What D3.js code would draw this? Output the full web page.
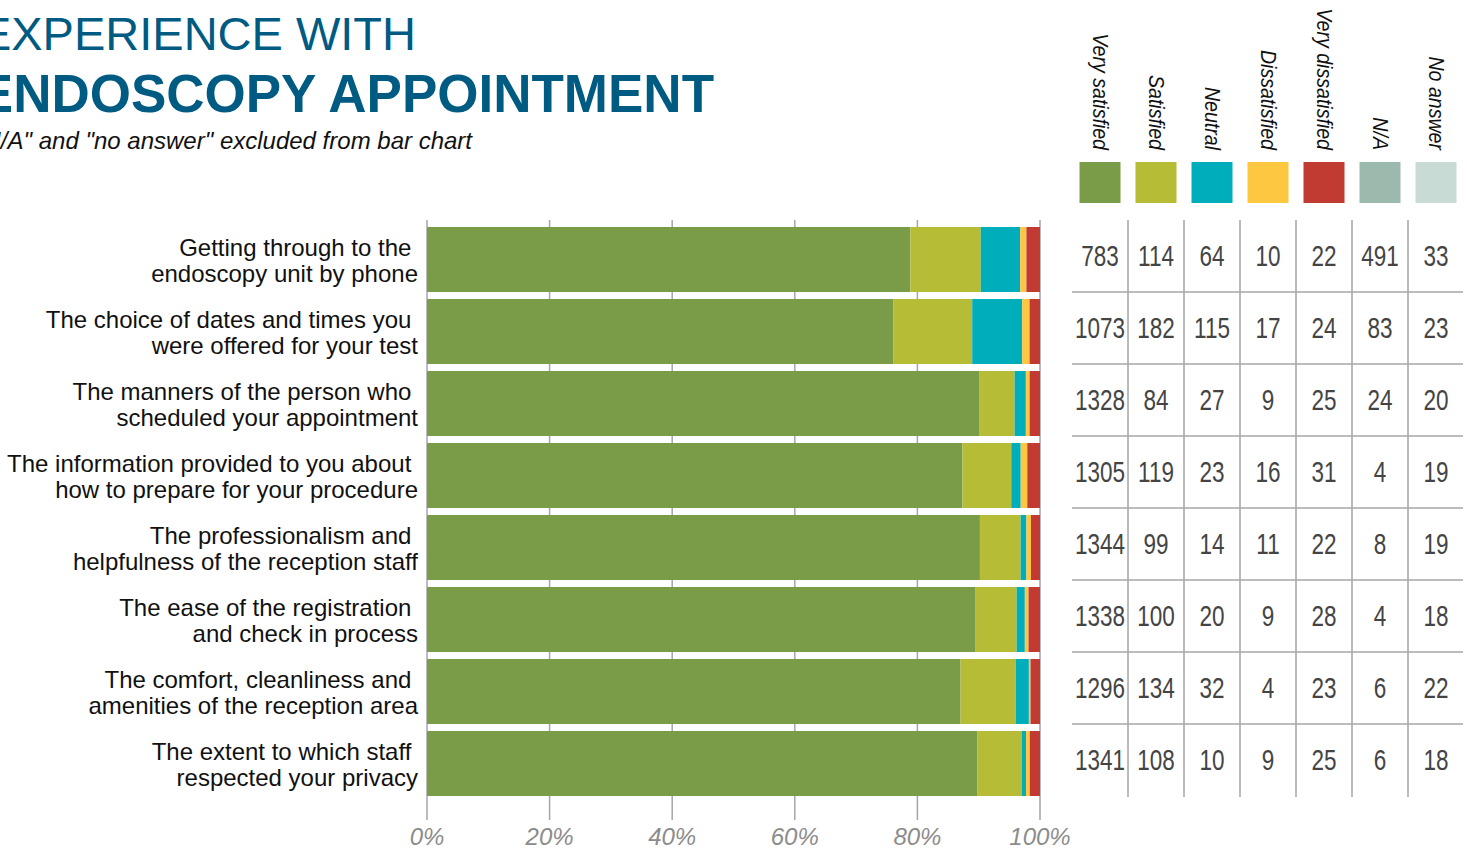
<!DOCTYPE html>
<html>
<head>
<meta charset="utf-8">
<style>
    body { margin: 0; background: white; overflow: hidden; }
    svg { display: block; font-family: "Liberation Sans", Arial, sans-serif; }
    .cat { white-space: pre; }
</style>
</head>
<body>
<svg width="1467" height="849"></svg>
<script src="https://d3js.org/d3.v7.min.js"></script>
<script>
    // data
    let categories = [
        ["Getting through to the ", "endoscopy unit by phone"],
        ["The choice of dates and times you ", "were offered for your test"],
        ["The manners of the person who ", "scheduled your appointment"],
        ["The information provided to you about ", "how to prepare for your procedure"],
        ["The professionalism and ", "helpfulness of the reception staff"],
        ["The ease of the registration ", "and check in process"],
        ["The comfort, cleanliness and ", "amenities of the reception area"],
        ["The extent to which staff ", "respected your privacy"]
    ];
    let answers = ["Very satisfied", "Satisfied", "Neutral", "Dissatisfied", "Very dissatisfied", "N/A", "No answer"];
    let colors = ["#7a9c48", "#b6bc35", "#00adbb", "#fdc741", "#c13b33", "#9bb9ad", "#c9dbd5"];

    let verySatisfied    = [783, 1073, 1328, 1305, 1344, 1338, 1296, 1341];
    let satisfied        = [114, 182, 84, 119, 99, 100, 134, 108];
    let neutral          = [64, 115, 27, 23, 14, 20, 32, 10];
    let dissatisfied     = [10, 17, 9, 16, 11, 9, 4, 9];
    let veryDissatisfied = [22, 24, 25, 31, 22, 28, 23, 25];
    let notApplicable    = [491, 83, 24, 4, 8, 4, 6, 6];
    let noAnswer         = [33, 23, 20, 19, 19, 18, 22, 18];

    let tickValues = [0, 0.2, 0.4, 0.6, 0.8, 1];

    let series = [verySatisfied, satisfied, neutral, dissatisfied, veryDissatisfied, notApplicable, noAnswer];
    let rows = categories.map((c, i) => {
        let r = { key: i };
        answers.forEach((a, j) => r[a] = series[j][i]);
        return r;
    });

    // bar chart only uses the first five answers, as shares
    let barKeys = answers.slice(0, 5);
    let shares = rows.map(r => {
        let total = d3.sum(barKeys, k => r[k]);
        let s = { key: r.key };
        barKeys.forEach(k => s[k] = r[k] / total);
        return s;
    });
    let stacked = d3.stack().keys(barKeys)(shares);

    let svg = d3.select("svg");
    let color = d3.scaleOrdinal().domain(answers).range(colors);

    let x = d3.scaleLinear().domain([0, 1]).range([427, 1040]);
    let y = d3.scaleBand().domain(d3.range(categories.length)).range([220, 796]);

    // titles
    svg.append("text")
        .attr("x", 416).attr("y", 50)
        .attr("text-anchor", "end")
        .style("font-size", "47px")
        .style("fill", "#005b82")
        .text("EXPERIENCE WITH");
    svg.append("text")
        .attr("x", 714).attr("y", 112)
        .attr("text-anchor", "end")
        .style("font-size", "53px")
        .style("font-weight", "bold")
        .style("fill", "#005b82")
        .text("ENDOSCOPY APPOINTMENT");
    svg.append("text")
        .attr("x", 472).attr("y", 149)
        .attr("text-anchor", "end")
        .style("font-size", "24px")
        .style("font-style", "italic")
        .style("fill", "#111")
        .text('"N/A" and "no answer" excluded from bar chart');

    // gridlines
    svg.append("g")
        .selectAll("line")
        .data(tickValues)
        .join("line")
        .attr("x1", d => x(d)).attr("x2", d => x(d))
        .attr("y1", 220).attr("y2", 820)
        .style("stroke", "#a6a6a6")
        .style("stroke-width", 1.5);

    svg.append("g")
        .selectAll("text")
        .data(tickValues)
        .join("text")
        .attr("x", d => x(d)).attr("y", 845)
        .attr("text-anchor", "middle")
        .style("font-size", "24px")
        .style("font-style", "italic")
        .style("fill", "#8c8c8c")
        .text(d3.format(".0%"));

    // bars
    svg.append("g")
        .selectAll("g")
        .data(stacked)
        .join("g")
        .style("fill", d => color(d.key))
        .selectAll("rect")
        .data(d => d)
        .join("rect")
        .attr("x", d => x(d[0]))
        .attr("width", d => x(d[1]) - x(d[0]))
        .attr("y", d => y(d.data.key) + 7)
        .attr("height", y.bandwidth() - 7);

    // category labels
    let labels = svg.append("g")
        .selectAll("text")
        .data(categories)
        .join("text")
        .attr("class", "cat")
        .attr("text-anchor", "end")
        .style("font-size", "24px")
        .style("fill", "#111");
    labels.append("tspan")
        .attr("x", 418)
        .attr("y", (d, i) => y(i) + 7 + (y.bandwidth() - 7) / 2 - 4)
        .text(d => d[0]);
    labels.append("tspan")
        .attr("x", 418)
        .attr("y", (d, i) => y(i) + 7 + (y.bandwidth() - 7) / 2 + 22)
        .text(d => d[1]);

    // table of counts
    let col = d3.scaleBand().domain(answers).range([1072, 1464]);

    let table = svg.append("g");
    table.selectAll(".hline")
        .data(d3.range(1, categories.length))
        .join("line")
        .attr("x1", 1072).attr("x2", 1463)
        .attr("y1", d => y(d)).attr("y2", d => y(d))
        .style("stroke", "#a6a6a6")
        .style("stroke-width", 1.5);
    table.selectAll(".vline")
        .data(answers.slice(1))
        .join("line")
        .attr("x1", d => col(d)).attr("x2", d => col(d))
        .attr("y1", 220).attr("y2", 797)
        .style("stroke", "#a6a6a6")
        .style("stroke-width", 1.5);

    // narrow numbers: squeeze horizontally since no condensed font is around
    let cells = [];
    rows.forEach((r, i) => answers.forEach(a => cells.push({ row: i, key: a, value: r[a] })));
    table.selectAll("text")
        .data(cells)
        .join("text")
        .attr("transform", d => `translate(${col(d.key) + col.bandwidth() / 2},${y(d.row) + 7 + (y.bandwidth() - 7) / 2 + 6.5}) scale(0.75,1)`)
        .attr("text-anchor", "middle")
        .style("font-size", "30px")
        .style("fill", "#444")
        .text(d => d.value);

    // legend
    let legend = svg.append("g")
        .selectAll("g")
        .data(answers)
        .join("g")
        .attr("transform", d => `translate(${col(d) + col.bandwidth() / 2},0)`);
    legend.append("rect")
        .attr("x", -20.5).attr("y", 162)
        .attr("width", 41).attr("height", 41)
        .style("fill", d => color(d));
    legend.append("text")
        .attr("transform", "translate(-7,150) rotate(90) scale(0.89,1)")
        .attr("text-anchor", "end")
        .style("font-size", "22px")
        .style("font-style", "italic")
        .style("fill", "#111")
        .text(d => d);
</script>
</body>
</html>
